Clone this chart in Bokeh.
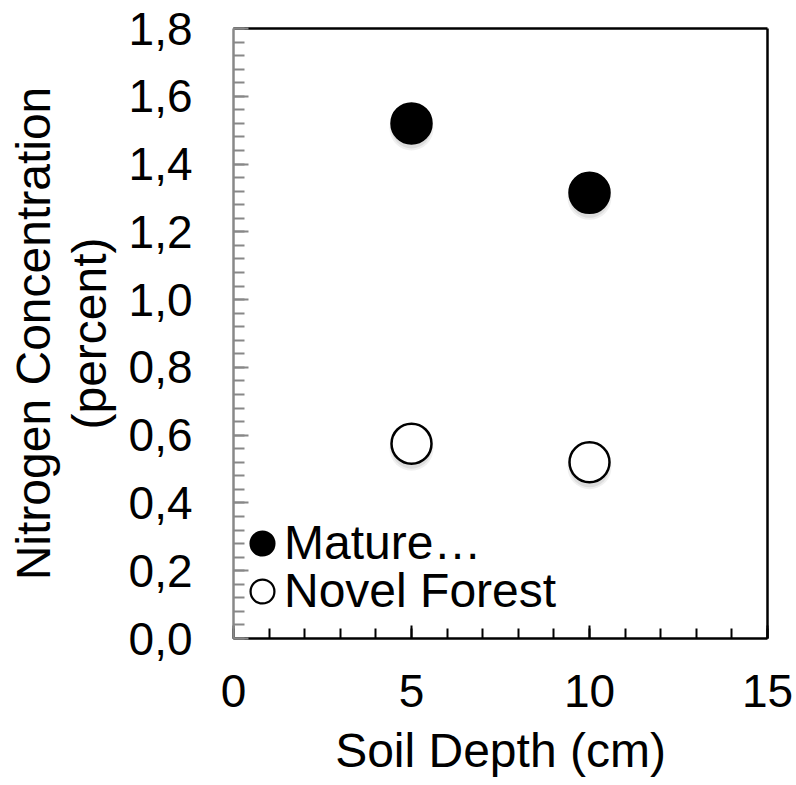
from bokeh.plotting import figure
from bokeh.models import (FixedTicker, LinearAxis, Range1d, Legend, LegendItem,
                          CustomJSTickFormatter)
from bokeh.embed import file_html
from bokeh.resources import INLINE

depth = [5, 10]
mature = [1.52, 1.315]
novel = [0.575, 0.52]
x_ticks = [0, 5, 10, 15]
y_ticks = [0.0, 0.2, 0.4, 0.6, 0.8, 1.0, 1.2, 1.4, 1.6, 1.8]
series_names = ["Mature\u2026", "Novel Forest"]

FONT = "Liberation Sans"
NAN = float("nan")

p = figure(width=796, height=785, output_backend="svg", toolbar_location=None,
           x_range=Range1d(0, 15), y_range=Range1d(0, 1.8),
           min_border_left=233, min_border_right=29, min_border_top=28,
           min_border_bottom=147)
p.outline_line_color = None
p.grid.visible = False
p.background_fill_color = "white"

# soft drop shadow: same data on a range shifted by a few pixels
shift = 5 / 339.0
p.extra_y_ranges = {"shadow": Range1d(shift, 1.8 + shift)}
for ys in (mature, novel):
    p.scatter(depth, ys, size=44, fill_color="black", fill_alpha=0.06,
              line_color=None, y_range_name="shadow")
    p.scatter(depth, ys, size=40, fill_color="black", fill_alpha=0.08,
              line_color=None, y_range_name="shadow")

r1 = p.scatter(depth, mature, size=40, fill_color="black", line_color="black",
               line_width=2.5)
r2 = p.scatter(depth, novel, size=40, fill_color="white", line_color="black",
               line_width=2.5)

# legend-only glyphs (no visible points) so legend markers can be sized like the reference
lg_black = p.scatter([NAN], [NAN], size=10, fill_color="black", line_color="black", line_width=8.5)
lg_ring = p.scatter([NAN], [NAN], size=10, fill_color="black", line_color="black", line_width=8.5)
lg_hole = p.scatter([NAN], [NAN], size=10, fill_color="white", line_color="white", line_width=4)

xa = p.xaxis[0]
xa.ticker = FixedTicker(ticks=x_ticks, minor_ticks=list(range(0, 16)))
xa.axis_line_color = "black"
xa.axis_line_width = 2.5
xa.major_tick_in = 13
xa.major_tick_out = 0
xa.minor_tick_in = 10
xa.minor_tick_out = 0
xa.major_tick_line_color = "black"
xa.major_tick_line_width = 2
xa.minor_tick_line_color = "black"
xa.minor_tick_line_width = 2
xa.major_label_text_font = FONT
xa.major_label_text_font_size = "46px"
xa.major_label_text_color = "black"
xa.major_label_standoff = 36
xa.axis_label = "Soil Depth (cm)"
xa.axis_label_text_font = FONT
xa.axis_label_text_font_size = "48px"
xa.axis_label_text_font_style = "normal"
xa.axis_label_text_color = "black"
xa.axis_label_standoff = 14

ya = p.yaxis[0]
minor_y = [round(i * 0.04, 2) for i in range(0, 46)]
ya.ticker = FixedTicker(ticks=y_ticks, minor_ticks=minor_y)
ya.formatter = CustomJSTickFormatter(code="return tick.toFixed(1).replace('.', ',');")
ya.axis_line_color = "#888888"
ya.axis_line_width = 2.5
ya.major_tick_in = 15
ya.major_tick_out = 0
ya.minor_tick_in = 11
ya.minor_tick_out = 0
ya.major_tick_line_color = "#888888"
ya.major_tick_line_width = 2
ya.minor_tick_line_color = "#888888"
ya.minor_tick_line_width = 2
ya.major_label_text_font = FONT
ya.major_label_text_font_size = "46px"
ya.major_label_text_color = "black"
ya.major_label_standoff = 41
ya.axis_label = "Nitrogen Concentration\n(percent)"
ya.axis_label_text_font = FONT
ya.axis_label_text_font_size = "48px"
ya.axis_label_text_font_style = "normal"
ya.axis_label_text_color = "black"
ya.axis_label_text_line_height = 1.05
ya.axis_label_standoff = 10

for side in ("above", "right"):
    ax = LinearAxis(ticker=FixedTicker(ticks=[]), major_label_text_font_size="0px",
                    axis_line_color="black", axis_line_width=2.5,
                    major_tick_line_color=None, minor_tick_line_color=None)
    p.add_layout(ax, side)

common = dict(padding=0, margin=0, spacing=0, glyph_width=44, glyph_height=44,
              label_standoff=0, label_text_font=FONT, label_text_font_size="48px",
              label_text_color="black", background_fill_alpha=0,
              border_line_color=None)
leg1 = Legend(items=[LegendItem(label=series_names[0], renderers=[lg_black])],
              location=(7, 68), **common)
leg2 = Legend(items=[LegendItem(label=series_names[1], renderers=[lg_ring, lg_hole])],
              location=(7, 20), **common)
p.add_layout(leg1, "center")
p.add_layout(leg2, "center")

open("out.html", "w").write(file_html(p, INLINE))
